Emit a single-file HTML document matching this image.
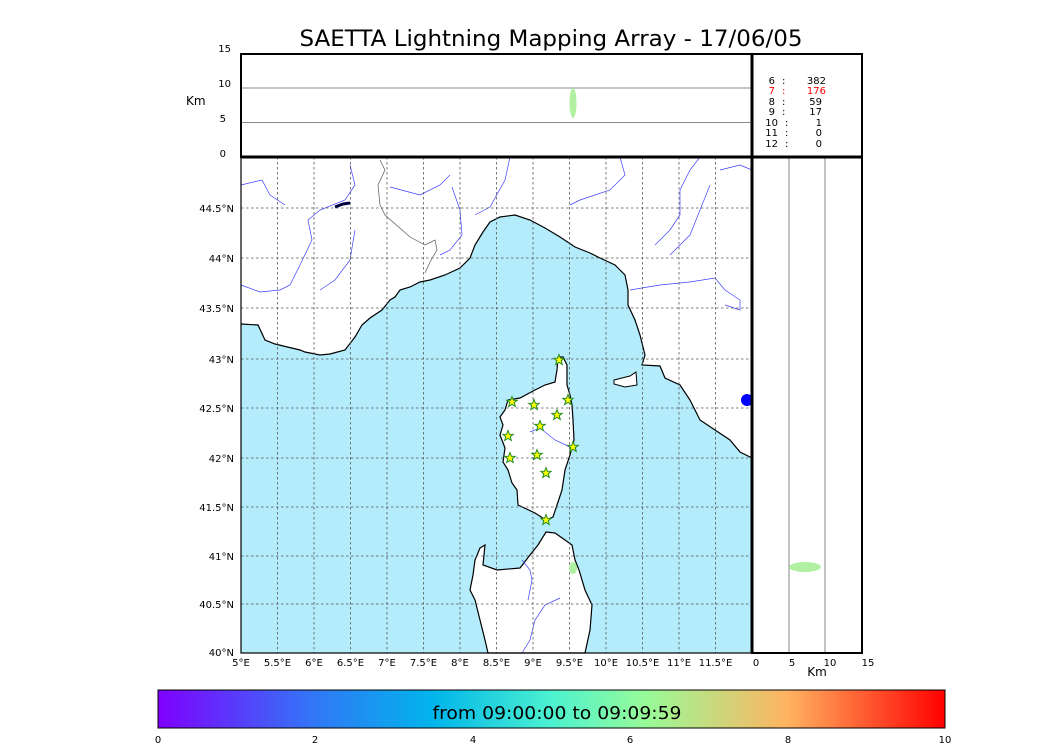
<!DOCTYPE html>
<html><head><meta charset="utf-8"><style>
body{margin:0;background:#fff;width:1050px;height:750px;overflow:hidden}
svg{display:block;font-family:"DejaVu Sans","Liberation Sans",sans-serif}
</style></head><body>
<svg width="1050" height="750" viewBox="0 0 1050 750" xmlns="http://www.w3.org/2000/svg">
<defs>
<linearGradient id="cb" x1="0" x2="1" y1="0" y2="0">
<stop offset="0" stop-color="#7f00ff"/><stop offset="0.2" stop-color="#3178f6"/>
<stop offset="0.35" stop-color="#00b5eb"/><stop offset="0.5" stop-color="#4cf2cf"/>
<stop offset="0.62" stop-color="#98fb98"/><stop offset="0.8" stop-color="#ffb360"/>
<stop offset="1" stop-color="#ff0000"/></linearGradient>
<g id="star"><polygon points="0,-5.5 1.4,-1.8 5.2,-1.7 2.2,0.7 3.3,4.5 0,2.3 -3.3,4.5 -2.2,0.7 -5.2,-1.7 -1.4,-1.8" fill="#ffff00" stroke="#228b22" stroke-width="1"/></g>
</defs>
<text x="551" y="46" font-size="22" text-anchor="middle" textLength="503" lengthAdjust="spacingAndGlyphs">SAETTA Lightning Mapping Array - 17/06/05</text>

<!-- map -->
<rect x="241" y="157" width="511" height="496" fill="#fff"/>
<polygon fill="#b4ecfc" points="241,324 258,325 265,340 275,344 300,350 305,352 320,355 330,354 345,350 355,337 362,325 370,318 382,310 390,300 395,297 400,290 410,287 420,282 430,280 445,275 460,268 470,258 475,245 483,232 490,222 500,217 515,215 530,220 545,228 560,237 575,247 590,253 600,258 615,265 625,275 628,290 628,305 635,320 640,335 645,355 642,365 660,366 665,378 680,385 690,400 700,420 715,430 730,440 740,452 752,458 752,653 241,653"/>
<polyline fill="none" stroke="#000" stroke-width="1.2" points="241,324 258,325 265,340 275,344 300,350 305,352 320,355 330,354 345,350 355,337 362,325 370,318 382,310 390,300 395,297 400,290 410,287 420,282 430,280 445,275 460,268 470,258 475,245 483,232 490,222 500,217 515,215 530,220 545,228 560,237 575,247 590,253 600,258 615,265 625,275 628,290 628,305 635,320 640,335 645,355 642,365 660,366 665,378 680,385 690,400 700,420 715,430 730,440 740,452 752,458"/>
<polygon fill="#fff" stroke="#000" stroke-width="1.2" points="558,357 563,357 567,365 567,385 570,395 572,405 573,420 574,440 570,455 565,470 562,490 557,505 553,517 546,520 535,513 518,505 517,490 512,483 508,470 503,462 505,448 500,435 503,425 500,417 505,410 508,400 520,398 535,390 545,385 555,382 557,370"/>
<polygon fill="#fff" stroke="#000" stroke-width="1.2" points="546,532 555,533 565,540 572,545 575,560 579,570 585,590 592,605 590,630 585,653 488,653 485,640 480,620 475,600 470,590 473,575 475,560 480,548 485,545 483,565 497,570 520,568 530,555 538,545"/>
<polygon fill="#fff" stroke="#000" points="614,380 630,376 636,372 637,385 625,387 614,384"/>
<g fill="none" stroke="#4040ff" stroke-width="0.7">
<path d="M241,185 L262,180 L270,195 L285,205"/>
<path d="M350,165 L355,185 L345,200 L320,210 L308,220 L312,240 L300,265 L290,285 L280,290 L260,292 L241,285"/>
<path d="M355,230 L350,260 L335,280 L320,290"/>
<path d="M390,187 L420,195 L440,185 L450,175"/>
<path d="M452,187 L460,210 L462,235 L450,250 L440,255"/>
<path d="M510,157 L505,180 L490,207 L475,215"/>
<path d="M620,157 L625,175 L610,190 L580,200 L570,205"/>
<path d="M700,157 L690,170 L680,190 L680,215 L670,230 L655,245"/>
<path d="M710,185 L700,210 L690,235 L670,255"/>
<path d="M630,290 L660,285 L690,282 L715,278 L725,290 L740,300 L740,310 L725,305"/>
<path d="M720,170 L740,165 L752,170"/>
<path d="M530,432 L540,428 L555,440 L570,447"/>
<path d="M522,560 L530,570 L532,580 L528,600"/>
<path d="M560,598 L545,605 L535,620 L530,640 L522,653"/>
</g>
<path d="M380,160 L385,170 L378,185 L380,205 L385,215 L410,237 L425,245 L435,240 L437,250 L430,262 L425,273" fill="none" stroke="#555" stroke-width="0.7"/>
<path d="M335,207 L343,204 L350,203" stroke="#000040" stroke-width="3" fill="none"/>
<ellipse cx="747" cy="400" rx="6" ry="6" fill="#0000ff"/>
<g stroke="#555" stroke-width="0.8" stroke-dasharray="2.5,2.5">
<path d="M277.5,157V653M314,157V653M350.5,157V653M387,157V653M423.5,157V653M460,157V653M496.5,157V653M533,157V653M569.5,157V653M606,157V653M642.5,157V653M679,157V653M715.5,157V653"/>
<path d="M241,208H752M241,258H752M241,308H752M241,359H752M241,408H752M241,458H752M241,507H752M241,556H752M241,604H752"/>
</g>
<g fill="#b0f0a0"><ellipse cx="573" cy="568" rx="4" ry="6"/></g>
<g>
<use href="#star" x="559" y="360"/><use href="#star" x="512" y="402"/><use href="#star" x="534" y="405"/>
<use href="#star" x="568" y="400"/><use href="#star" x="557" y="415"/><use href="#star" x="540" y="426"/>
<use href="#star" x="508" y="436"/><use href="#star" x="573" y="447"/><use href="#star" x="537" y="455"/>
<use href="#star" x="510" y="458"/><use href="#star" x="546" y="473"/><use href="#star" x="546" y="520"/>
</g>
<rect x="241" y="157" width="511" height="496" fill="none" stroke="#000" stroke-width="1.2"/>
<g font-size="10" text-anchor="end">
<text x="234" y="212">44.5°N</text><text x="234" y="262">44°N</text><text x="234" y="312">43.5°N</text>
<text x="234" y="363">43°N</text><text x="234" y="412">42.5°N</text><text x="234" y="462">42°N</text>
<text x="234" y="511">41.5°N</text><text x="234" y="560">41°N</text><text x="234" y="608">40.5°N</text>
<text x="234" y="656">40°N</text>
</g>
<g font-size="10" text-anchor="middle">
<text x="241" y="666">5°E</text><text x="277.5" y="666">5.5°E</text><text x="314" y="666">6°E</text>
<text x="350.5" y="666">6.5°E</text><text x="387" y="666">7°E</text><text x="423.5" y="666">7.5°E</text>
<text x="460" y="666">8°E</text><text x="496.5" y="666">8.5°E</text><text x="533" y="666">9°E</text>
<text x="569.5" y="666">9.5°E</text><text x="606" y="666">10°E</text><text x="642.5" y="666">10.5°E</text>
<text x="679" y="666">11°E</text><text x="715.5" y="666">11.5°E</text>
<text x="756" y="666">0</text><text x="792" y="666">5</text><text x="830" y="666">10</text><text x="868" y="666">15</text>
</g>
<text x="817" y="676" font-size="12" text-anchor="middle">Km</text>

<rect x="241" y="54" width="511" height="103" fill="#fff"/>
<path d="M241,88H752M241,122.5H752" stroke="#666" stroke-width="0.8"/>
<ellipse cx="573" cy="103" rx="3.5" ry="15" fill="#b0f0a0"/>
<rect x="241" y="54" width="511" height="103" fill="none" stroke="#000" stroke-width="2"/>
<g font-size="10" text-anchor="end"><text x="231" y="52">15</text><text x="231" y="87">10</text><text x="226" y="122">5</text><text x="226" y="157">0</text></g>
<text x="186" y="105" font-size="12">Km</text>

<path d="M789,157V653M825,157V653" stroke="#666" stroke-width="0.8"/>
<ellipse cx="805" cy="567" rx="16" ry="5" fill="#b0f0a0"/>
<rect x="752" y="157" width="110" height="496" fill="none" stroke="#000" stroke-width="2"/>
<rect x="752" y="54" width="110" height="103" fill="none" stroke="#000" stroke-width="2"/>
<g font-size="10">
<g text-anchor="end"><text x="775" y="84">6</text><text x="775" y="94" fill="red">7</text><text x="775" y="105">8</text><text x="775" y="115">9</text><text x="778" y="126">10</text><text x="778" y="136">11</text><text x="778" y="147">12</text></g>
<g><text x="782" y="84">:</text><text x="782" y="94" fill="red">:</text><text x="782" y="105">:</text><text x="782" y="115">:</text><text x="785" y="126">:</text><text x="785" y="136">:</text><text x="785" y="147">:</text></g>
<g text-anchor="end"><text x="826" y="84">382</text><text x="826" y="94" fill="red">176</text><text x="822" y="105">59</text><text x="822" y="115">17</text><text x="822" y="126">1</text><text x="822" y="136">0</text><text x="822" y="147">0</text></g>
</g>
<line x1="752" y1="54" x2="752" y2="653" stroke="#000" stroke-width="3"/>
<line x1="241" y1="157" x2="862" y2="157" stroke="#000" stroke-width="3"/>

<rect x="158" y="690" width="787" height="38" fill="url(#cb)" stroke="#000" stroke-width="1"/>
<text x="557" y="719" font-size="18" text-anchor="middle" textLength="249" lengthAdjust="spacingAndGlyphs">from 09:00:00 to 09:09:59</text>
<g font-size="10" text-anchor="middle">
<text x="158" y="743">0</text><text x="315" y="743">2</text><text x="473" y="743">4</text>
<text x="630" y="743">6</text><text x="788" y="743">8</text><text x="945" y="743">10</text>
</g>
</svg>
</body></html>
